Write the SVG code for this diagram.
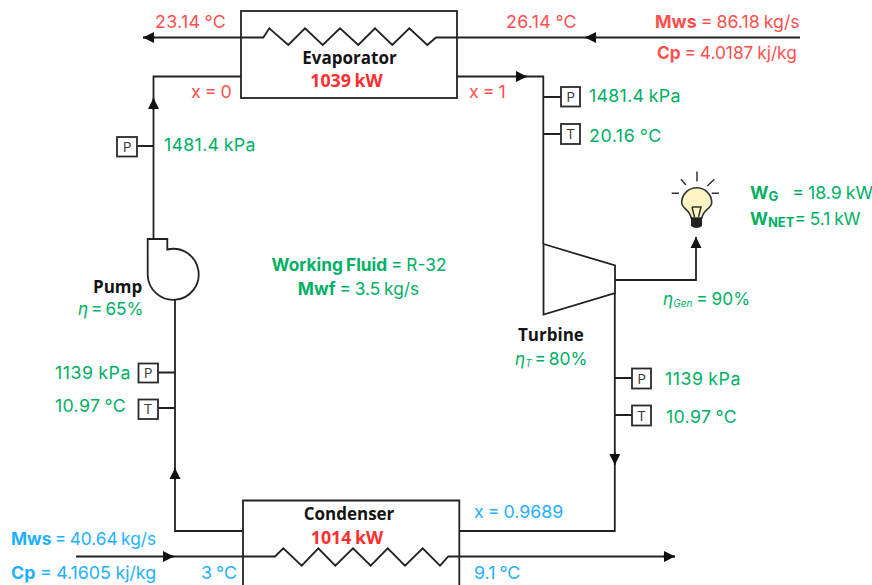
<svg xmlns="http://www.w3.org/2000/svg" width="872" height="585" viewBox="0 0 872 585">
<style>
text{font-family:"Inter","Open Sans","Liberation Sans",sans-serif;font-size:17.800px;word-spacing:-1px}
.r{fill:#ff4f4f}.g{fill:#00b065}.b{fill:#1fb1ff}
.k{fill:#151515;font-family:"Open Sans","Liberation Sans",sans-serif;font-size:17px;font-weight:700}
.h{font-weight:700}
.rb{fill:#ff2f2f;font-weight:700;font-family:"Open Sans","Liberation Sans",sans-serif;font-size:17.800px}
.e{font-style:italic}
.s{font-size:10px;font-style:italic}
.sb{font-size:13px;font-weight:700}
.m{text-anchor:middle}
.d{letter-spacing:.3px}
.d2{letter-spacing:.55px}
.n{font-size:17.300px}
.w{fill:none;stroke:#222;stroke-width:1.8}
.box{fill:#fff;stroke:#2b2b2b;stroke-width:1.8}
.lt{font-family:"Open Sans","Liberation Sans",sans-serif;font-size:14.500px;fill:#3a3a3a;text-anchor:middle}
.ray{stroke:#333;stroke-width:1.5;fill:none}
</style>
<defs>
<marker id="a" markerUnits="userSpaceOnUse" markerWidth="12" markerHeight="12" refX="11" refY="6" orient="auto"><path d="M0 0.500L11 6L0 11.500Z" fill="#111"/></marker>
</defs>
<rect width="872" height="585" fill="#fff"/>
<g id="connectors">
<path class="w" d="M800 37.500H436L427.300 45L409.300 28.300L392.300 45L375 28.300L358.300 45L340 28.300L322.700 45L305 28.300L288.300 45L269.300 28.300L263.300 37.500H143"/>
<path class="w" d="M155 37.500H143" marker-end="url(#a)"/>
<path class="w" d="M596 37.500H585" marker-end="url(#a)"/>
<path class="w" d="M457 76.500H543.300V244"/>
<path class="w" d="M516 76.500H527" marker-end="url(#a)"/>
<path class="w" d="M153.500 239V76.500H241"/>
<path class="w" d="M153.500 110V98" marker-end="url(#a)"/>
<path class="w" d="M175 300V531H243"/>
<path class="w" d="M175 480V468" marker-end="url(#a)"/>
<path class="w" d="M614.800 293V531H459"/>
<path class="w" d="M614.800 452V465" marker-end="url(#a)"/>
<path class="w" d="M615 280H696V250"/>
<path class="w" d="M696 250V237" marker-end="url(#a)"/>
<path class="w" d="M76 556.500H275L283.300 548.300L301.700 565.700L318.300 548.300L335.300 565.700L353 548.300L370.700 565.700L387.700 548.300L405 565.700L422.700 548.300L440 565.700L448.300 556.500H675"/>
<path class="w" d="M163 556.500H174" marker-end="url(#a)"/>
<path class="w" d="M663 556.500H675" marker-end="url(#a)"/>
<path class="w" d="M543.300 97H561M543.300 134H561M615 378H632M615 415H632M137 146H153.500M158 372.500H175M158 408H175"/>
</g>
<g id="evaporator">
<rect x="241" y="11" width="216" height="87" fill="none" stroke="#222" stroke-width="1.8"/>
<text class="k m" x="349.500" y="64">Evaporator</text>
<text class="rb m" x="346.500" y="87">1039 kW</text>
</g>
<g id="condenser">
<path class="w" d="M243 585V500.500H459.300V585"/>
<text class="k m" x="349" y="520">Condenser</text>
<text class="rb m" x="347" y="544">1014 kW</text>
</g>
<g id="pump">
<path d="M147.700 239H167.300V249.500A25.500 25.500 0 1 1 147.700 275Z" fill="#fff" stroke="#222" stroke-width="1.8"/>
<text class="k" x="93" y="293">Pump</text>
<text class="g n" x="78" y="315" style="word-spacing:-2px"><tspan class="e">η</tspan> = 65%</text>
</g>
<g id="turbine">
<path d="M543.500 244L615 265.500V293L543.500 314.500Z" fill="#fff" stroke="#222" stroke-width="1.8"/>
<text class="k" x="518" y="341">Turbine</text>
<text class="g n" x="515" y="365" style="word-spacing:-2px"><tspan class="e">η</tspan><tspan class="s" dy="2">T</tspan><tspan dy="-2"> = 80%</tspan></text>
<text class="g n" x="663" y="305"><tspan class="e">η</tspan><tspan class="s" dy="2">Gen</tspan><tspan dy="-2"> = 90%</tspan></text>
</g>
<g id="bulb">
<path d="M691 218C690.500 210 681.700 208.500 681.700 202.700A15 15 0 1 1 711.700 202.700C711.700 208.500 702.500 210 702 218Z" fill="#fdf5c4" stroke="#333" stroke-width="1.6"/>
<path d="M691 218H702V226Q696.500 230 691 226Z" fill="#222"/>
<path class="ray" d="M692 207H701L698.500 217M692 207L694.500 217"/>
<path class="ray" d="M697 171.500V181.500M681 179.300L686 185M714.300 179.300L707.300 186M671.700 193.300H679M711.700 193.300H719"/>
</g>
<g id="sensor-p1"><rect class="box" x="561" y="87" width="19" height="19.500"/><text class="lt" x="570.500" y="102">P</text></g>
<g id="sensor-t1"><rect class="box" x="561" y="124" width="19" height="20"/><text class="lt" x="570.500" y="139">T</text></g>
<g id="sensor-p2"><rect class="box" x="632" y="368.500" width="19" height="20"/><text class="lt" x="641.500" y="383.500">P</text></g>
<g id="sensor-t2"><rect class="box" x="632" y="405.500" width="19" height="20"/><text class="lt" x="641.500" y="420.500">T</text></g>
<g id="sensor-p3"><rect class="box" x="117" y="137" width="20" height="19.500"/><text class="lt" x="127" y="151.500">P</text></g>
<g id="sensor-p4"><rect class="box" x="138.500" y="363.500" width="19.500" height="19"/><text class="lt" x="148" y="378">P</text></g>
<g id="sensor-t3"><rect class="box" x="138.500" y="399.500" width="19.500" height="19.500"/><text class="lt" x="148" y="414">T</text></g>
<g id="labels">
<text class="r d" x="155" y="28">23.14 °C</text>
<text class="r d" x="506" y="28">26.14 °C</text>
<text class="r" x="655" y="28"><tspan class="h">Mws</tspan> = 86.18 kg/s</text>
<text class="r n" x="657" y="59"><tspan class="h">Cp</tspan> = 4.0187 kj/kg</text>
<text class="r" x="191" y="98">x = 0</text>
<text class="r" x="469" y="98">x = 1</text>
<text class="g d" x="589" y="102">1481.4 kPa</text>
<text class="g d2" x="589" y="142">20.16 °C</text>
<text class="g d" x="164" y="151">1481.4 kPa</text>
<text class="g" x="750" y="199"><tspan class="h">W</tspan><tspan class="sb" dy="2">G</tspan><tspan dy="-2" dx="14">= 18.9 kW</tspan></text>
<text class="g n" x="750" y="225"><tspan class="h">W</tspan><tspan class="sb" dy="2">NET</tspan><tspan dy="-2">= 5.1 kW</tspan></text>
<text class="g m n" x="359" y="271"><tspan class="h">Working Fluid</tspan> = R-32</text>
<text class="g m n" x="358.500" y="295"><tspan class="h">Mwf</tspan> = 3.5 kg/s</text>
<text class="g d2" x="55" y="379">1139 kPa</text>
<text class="g d" x="55" y="412">10.97 °C</text>
<text class="g d2" x="665" y="385">1139 kPa</text>
<text class="g d" x="666" y="423">10.97 °C</text>
<text class="b n" x="11" y="545" style="word-spacing:-1.500px"><tspan class="h">Mws</tspan> = 40.64 kg/s</text>
<text class="b" x="11" y="579" style="word-spacing:-.5px"><tspan class="h">Cp</tspan> = 4.1605 kj/kg</text>
<text class="b" x="201" y="579">3 °C</text>
<text class="b" x="474" y="518">x = 0.9689</text>
<text class="b" x="474" y="579">9.1 °C</text>
</g>
</svg>
